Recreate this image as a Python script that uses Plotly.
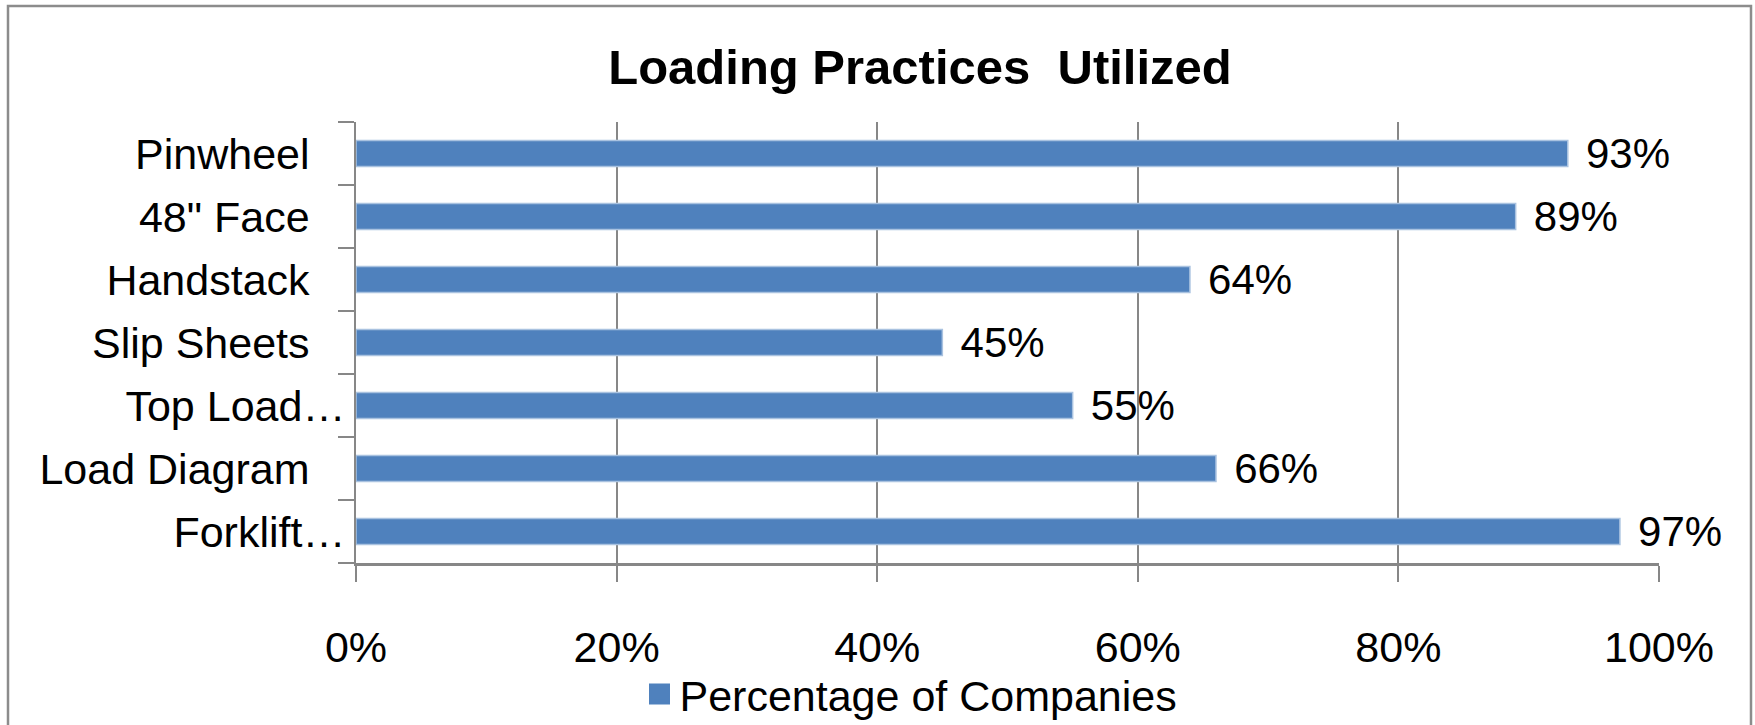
import plotly.graph_objects as go

categories = ["Pinwheel", "48\" Face", "Handstack", "Slip Sheets", "Top Load…", "Load Diagram", "Forklift…"]
values = [93, 89, 64, 45, 55, 66, 97]
x_ticks = [0, 20, 40, 60, 80, 100]
x_tick_labels = ["0%", "20%", "40%", "60%", "80%", "100%"]
series_name = "Percentage of Companies"
title_text = "Loading Practices  Utilized"

PAD = "\u00a0\u00a0\u00a0"
tick_text = [c if c.endswith("…") else c + PAD for c in categories]

FONT = "Liberation Sans, Arial, sans-serif"
W, H = 1755, 725
L, R, T, B = 356, 96, 122, 162
pw, ph = W - L - R, H - T - B
BAR_COLOR = "#4F81BD"

fig = go.Figure()
fig.add_trace(go.Bar(
    y=categories, x=values, orientation="h", name=series_name, showlegend=False,
    marker=dict(color=BAR_COLOR, line=dict(color="#A9C2E0", width=1.5)),
    text=[f"\u00a0\u200a{v}%" for v in values], textposition="outside",
    textfont=dict(family=FONT, size=42, color="black"),
    constraintext="none", cliponaxis=False,
))
# legend entry with a larger square swatch
fig.add_trace(go.Scatter(
    x=[None], y=[None], mode="markers", name=series_name, showlegend=True,
    marker=dict(symbol="square", size=16, color=BAR_COLOR, line=dict(color=BAR_COLOR, width=5)),
))

def px2paper_x(px):
    return (px - L) / pw

def px2paper_y(py):
    return (H - B - py) / ph

fig.add_shape(type="rect", xref="paper", yref="paper",
              x0=px2paper_x(8), x1=px2paper_x(1751),
              y0=px2paper_y(745), y1=px2paper_y(6),
              line=dict(color="#8C8C8C", width=2.5), fillcolor="rgba(0,0,0,0)", layer="below")

fig.update_layout(
    width=W, height=H,
    margin=dict(l=L, r=R, t=T, b=B, pad=0, autoexpand=False),
    paper_bgcolor="white", plot_bgcolor="white",
    font=dict(family=FONT, size=43, color="black"),
    bargap=0.59,
    title=dict(text=f"<b>{title_text}</b>", x=920 / W, xref="container", xanchor="center",
               y=1 - 67 / H, yref="container", yanchor="middle",
               font=dict(family=FONT, size=49, color="black")),
    showlegend=True,
    legend=dict(orientation="h", x=px2paper_x(911), xanchor="center",
                y=1 - 694 / H, yref="container", yanchor="middle",
                font=dict(family=FONT, size=43, color="black"),
                itemsizing="trace", bgcolor="rgba(0,0,0,0)"),
    xaxis=dict(range=[0, 100], tickmode="array", tickvals=x_ticks, ticktext=x_tick_labels,
               showgrid=True, gridcolor="#878787", gridwidth=1.5,
               showline=True, linecolor="#878787", linewidth=2.5,
               ticks="outside", ticklen=16, tickwidth=1.5, tickcolor="#878787",
               ticklabelstandoff=29, zeroline=False, automargin=False,
               tickfont=dict(family=FONT, size=43, color="black")),
    yaxis=dict(autorange="reversed", tickmode="array", tickvals=categories, ticktext=tick_text,
               showline=True, linecolor="#878787", linewidth=2,
               ticks="outside", ticklen=16, tickwidth=1.5, tickcolor="#878787",
               tickson="boundaries", showgrid=False, automargin=False,
               tickfont=dict(family=FONT, size=43, color="black")),
)

fig.write_html("out.html", config={"displayModeBar": False},
               post_script="document.body.style.margin='0';")
